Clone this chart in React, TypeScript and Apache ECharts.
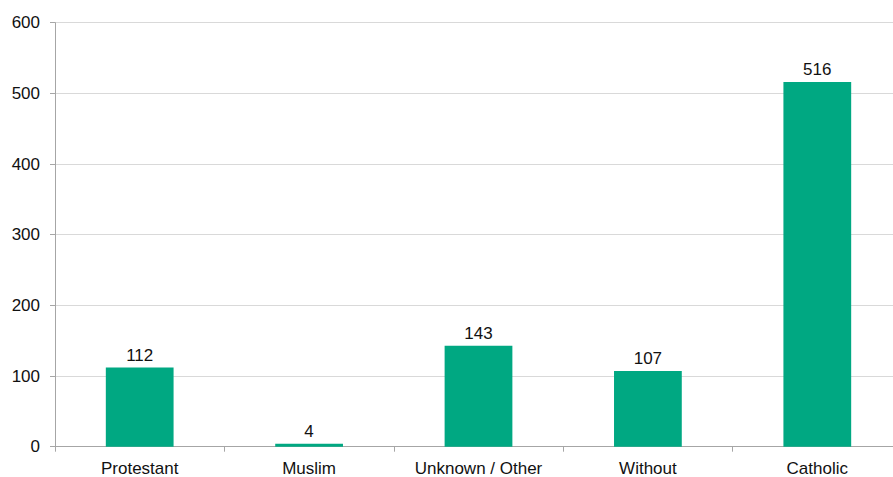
import React, { useEffect, useRef } from "react";
import * as echarts from "echarts";

const categories = ["Protestant", "Muslim", "Unknown / Other", "Without", "Catholic"];
const counts = [112, 4, 143, 107, 516];
const yTicks = { min: 0, max: 600, interval: 100 };

const FONT = "'Liberation Sans', Arial, sans-serif";
const FONT_SIZE = 17;
const TEXT_COLOR = "#111111";
const BAR_COLOR = "#00a882";
const AXIS_COLOR = "#a6a6a6";

export default function App() {
  const ref = useRef<HTMLDivElement>(null);

  useEffect(() => {
    if (!ref.current) return;
    const chart = echarts.init(ref.current, undefined, { renderer: "svg" });
    chart.setOption({
      animation: false,
      backgroundColor: "#ffffff",
      // the last category runs a little past the visible right edge
      grid: { left: 55, right: 0, top: 22.7, bottom: 30.3, containLabel: false },
      xAxis: {
        type: "category",
        data: categories,
        axisLine: { lineStyle: { color: AXIS_COLOR, width: 1 } },
        axisTick: { show: true, length: 5, alignWithLabel: false, lineStyle: { color: AXIS_COLOR } },
        axisLabel: { color: TEXT_COLOR, fontSize: FONT_SIZE, fontFamily: FONT, margin: 13 },
      },
      yAxis: {
        type: "value",
        min: yTicks.min,
        max: yTicks.max,
        interval: yTicks.interval,
        axisLine: { show: true, lineStyle: { color: AXIS_COLOR, width: 1 } },
        axisTick: { show: true, length: 5, lineStyle: { color: AXIS_COLOR } },
        axisLabel: { color: TEXT_COLOR, fontSize: FONT_SIZE, fontFamily: FONT, margin: 15 },
        splitLine: { show: true, lineStyle: { color: "#d9d9d9", width: 1 } },
      },
      series: [
        {
          type: "bar",
          data: counts,
          barWidth: "40%",
          itemStyle: { color: BAR_COLOR },
          label: {
            show: true,
            position: "top",
            distance: 4,
            color: TEXT_COLOR,
            fontSize: FONT_SIZE,
            fontFamily: FONT,
          },
        },
      ],
    });
    return () => chart.dispose();
  }, []);

  return (
    <div
      ref={ref}
      style={{ position: "fixed", left: 0, top: 0, width: 902, height: 477, background: "#fff" }}
    />
  );
}
